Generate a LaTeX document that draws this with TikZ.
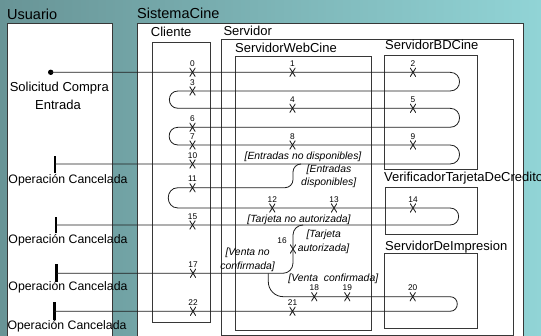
\documentclass[tikz,border=0pt]{standalone}
\usepackage{fontspec}
\setmainfont{Liberation Sans}
\definecolor{boxgray}{RGB}{55,55,55}
\definecolor{linegray}{RGB}{30,30,30}
\definecolor{bgleft}{RGB}{104,148,150}
\definecolor{bgmid}{RGB}{90,184,189}
\definecolor{bgright}{RGB}{145,212,214}
\begin{document}
\begin{tikzpicture}[x=1pt,y=-1pt,
  box/.style={draw=boxgray, line width=0.9pt, fill=white, anchor=north west, inner sep=0pt},
  ttl/.style={anchor=base west, inner sep=0pt, font=\fontsize{13}{15}\selectfont},
  bigttl/.style={anchor=base west, inner sep=0pt, font=\fontsize{14.5}{17}\selectfont},
  flow/.style={draw=linegray, line width=0.8pt},
  xmk/.style={minimum width=5.8pt, minimum height=9pt, inner sep=0pt,
    path picture={\draw[line width=0.85pt, linegray]
      (path picture bounding box.north west) -- (path picture bounding box.south east)
      (path picture bounding box.north east) -- (path picture bounding box.south west);}},
  num/.style={font=\fontsize{8.3}{9}\selectfont, inner sep=0.8pt},
  guard/.style={anchor=base, inner sep=0pt, font=\fontsize{10.4}{12}\selectfont\itshape},
  endbar/.style={fill=black, minimum width=2.8pt, inner sep=0pt},
  cancel/.style={anchor=base west, inner sep=0pt, font=\fontsize{12.3}{14}\selectfont},
  plain/.style={anchor=base, inner sep=0pt, font=\fontsize{13}{15}\selectfont}
]
\useasboundingbox (0,0) rectangle (541,336);
\shade[left color=bgleft, middle color=bgmid, right color=bgright] (0,0) rectangle (541,336);

% containers
\node[box, minimum width=105.3pt, minimum height=320pt] (usuario) at (6.7,23.3) {};
\node[box, minimum width=386pt, minimum height=320pt] (sistema) at (136.7,23) {};
\node[box, minimum width=58.3pt, minimum height=280pt] (cliente) at (151.7,41.7) {};
\node[box, minimum width=292.6pt, minimum height=295.7pt] (servidor) at (220.7,39.3) {};
\node[box, minimum width=136pt, minimum height=274pt] (web) at (235,56) {};
\node[box, minimum width=92.7pt, minimum height=114pt] (bd) at (384,55) {};
\node[box, minimum width=92.3pt, minimum height=47.3pt] (verif) at (385,186.7) {};
\node[box, minimum width=92.7pt, minimum height=75pt] (impr) at (384,253.3) {};

% container titles
\node[bigttl] (tusuario) at (7,20) {Usuario};
\node[bigttl] (tsistema) at (137,18.3) {SistemaCine};
\node[ttl] (tcliente) at (150.7,36.7) {Cliente};
\node[ttl] (tservidor) at (223.3,35.7) {Servidor};
\node[ttl] (tweb) at (235,52.7) {ServidorWebCine};
\node[ttl] (tbd) at (385,50) {ServidorBDCine};
\node[ttl] (tverif) at (384,181.7) {VerificadorTarjetaDeCredito};
\node[ttl] (timpr) at (385,250.7) {ServidorDeImpresion};

% user side
\node[plain] (sol1) at (59.3,91.7) {Solicitud Compra};
\node[plain] (sol2) at (58,110) {Entrada};
\node[cancel] (c1) at (8.3,183.3) {Operación Cancelada};
\node[cancel] (c2) at (8.3,243.3) {Operación Cancelada};
\node[cancel] (c3) at (8.3,291) {Operación Cancelada};
\node[cancel] (c4) at (7.3,330) {Operación Cancelada};

\node[circle, fill=black, minimum size=5.4pt, inner sep=0pt] (start) at (50.7,72.3) {};
\node[endbar, minimum height=16.7pt] (b1) at (55,164.2) {};
\node[endbar, minimum height=16.7pt] (b2) at (56,225) {};
\node[endbar, minimum height=18.3pt] (b3) at (56.5,272.8) {};
\node[endbar, minimum height=17.7pt] (b4) at (54.3,310.7) {};

% events
\node[xmk, label={[num]above:0}] (e0) at (192.5,72.3) {};
\node[xmk, label={[num]above:1}] (e1) at (292.5,72.3) {};
\node[xmk, label={[num]above:2}] (e2) at (413,72.3) {};
\node[xmk, label={[num]above:3}] (e3) at (192.5,91) {};
\node[xmk, label={[num]above:4}] (e4) at (292.5,108.3) {};
\node[xmk, label={[num]above:5}] (e5) at (413,108.3) {};
\node[xmk, label={[num]above:6}] (e6) at (192.5,127.3) {};
\node[xmk, label={[num]above:7}] (e7) at (192.5,145) {};
\node[xmk, label={[num]above:8}] (e8) at (292.5,145) {};
\node[xmk, label={[num]above:9}] (e9) at (413,145) {};
\node[xmk, label={[num]above:10}] (e10) at (192.5,164) {};
\node[xmk, label={[num]above:11}] (e11) at (192.5,187.7) {};
\node[xmk, label={[num]above:12}] (e12) at (272.3,208) {};
\node[xmk, label={[num]above:13}] (e13) at (334,208) {};
\node[xmk, label={[num]above:14}] (e14) at (413,208) {};
\node[xmk, label={[num]above:15}] (e15) at (192.5,225) {};
\node[xmk, label={[num,xshift=-11pt]above:16}] (e16) at (293,249) {};
\node[xmk, label={[num]above:17}] (e17) at (193,273.3) {};
\node[xmk, label={[num]above:18}] (e18) at (314.3,296.7) {};
\node[xmk, label={[num]above:19}] (e19) at (347.3,296.7) {};
\node[xmk, label={[num]above:20}] (e20) at (412.7,296.7) {};
\node[xmk, label={[num]above:21}] (e21) at (292.5,311.3) {};
\node[xmk, label={[num]above:22}] (e22) at (193,311.3) {};

% turning points of the message path
\coordinate (ra1) at (450,72.3);  \coordinate (rb1) at (450,91);
\coordinate (la1) at (178,91);    \coordinate (lb1) at (178,108.3);
\coordinate (ra2) at (450,108.3); \coordinate (rb2) at (450,127.3);
\coordinate (la2) at (178,127.3); \coordinate (lb2) at (178,145);
\coordinate (ra3) at (450,145);   \coordinate (rb3) at (450,164);
\coordinate (fa) at (301,164);
\coordinate (la3) at (178,187.7); \coordinate (lb3) at (178,208);
\coordinate (ra4) at (450,208);   \coordinate (rb4) at (450,225);
\coordinate (fb) at (303,225);
\coordinate (fc) at (268.3,273.3);
\coordinate (ra5) at (450,296.7); \coordinate (rb5) at (450,311.3);

% main request path
\draw[flow] (start.center) -- (e0.center) -- (e1.center) -- (e2.center) -- (ra1)
  .. controls +(12.7,0) and +(12.7,0) .. (rb1) -- (e3.center) -- (la1)
  .. controls +(-11.5,0) and +(-11.5,0) .. (lb1) -- (e4.center) -- (e5.center) -- (ra2)
  .. controls +(12.7,0) and +(12.7,0) .. (rb2) -- (e6.center) -- (la2)
  .. controls +(-11.8,0) and +(-11.8,0) .. (lb2) -- (e7.center) -- (e8.center) -- (e9.center) -- (ra3)
  .. controls +(12.7,0) and +(12.7,0) .. (rb3) -- (e10.center) -- (e10.center -| b1.center);
% entradas disponibles
\draw[flow] (fa) .. controls (296.6,164) and (293,167.6) .. (293,172) -- (293,179.7)
  .. controls (293,184.1) and (289.4,187.7) .. (285,187.7) -- (e11.center) -- (la3)
  .. controls +(-13,0) and +(-13,0) .. (lb3) -- (e12.center) -- (e13.center) -- (e14.center) -- (ra4)
  .. controls +(11.5,0) and +(11.5,0) .. (rb4) -- (e15.center) -- (e15.center -| b2.center);
% tarjeta autorizada
\draw[flow] (fb) .. controls (297.5,225) and (293,229.5) .. (293,235) -- (e16.center) -- (293,263)
  .. controls (293,268.8) and (288.5,273.3) .. (283,273.3) -- (e17.center) -- (e17.center -| b3.center);
% venta confirmada
\draw[flow] (fc) -- (268.3,281.7) .. controls (268.3,290) and (275,296.7) .. (283.3,296.7)
  -- (e18.center) -- (e19.center) -- (e20.center) -- (ra5)
  .. controls +(9.7,0) and +(9.7,0) .. (rb5) -- (e21.center) -- (e22.center) -- (e22.center -| b4.center);

% guards
\node[guard] (g1) at (303,160) {[Entradas no disponibles]};
\node[guard] (g2a) at (329,173) {[Entradas};
\node[guard] (g2b) at (328.7,186) {disponibles]};
\node[guard] (g3) at (299,222.3) {[Tarjeta no autorizada]};
\node[guard] (g4a) at (323.7,237.7) {[Tarjeta};
\node[guard] (g4b) at (323.5,252) {autorizada]};
\node[guard] (g5a) at (247.6,255.5) {[Venta no};
\node[guard] (g5b) at (247.6,269.5) {confirmada]};
\node[guard] (g6) at (333.3,281.5) {[Venta\ \ confirmada]};
\end{tikzpicture}
\end{document}
